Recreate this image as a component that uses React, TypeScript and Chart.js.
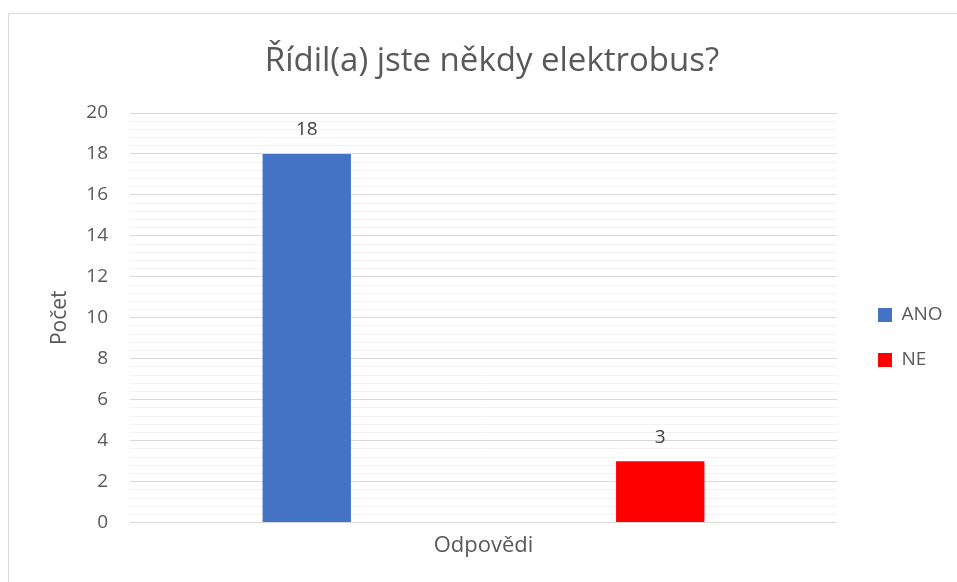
import React, { useEffect, useRef } from "react";
import { Chart, registerables } from "chart.js";

Chart.register(...registerables);

// ---- data ----
const chartTitle = "Řídil(a) jste někdy elektrobus?";
const categories = ["Odpovědi"];
const seriesNames = ["ANO", "NE"];
const anoValues = [18];
const neValues = [3];
const seriesColors = ["#4472C4", "#FF0000"];
const yAxisTitle = "Počet";
const yMin = 0;
const yMax = 20;
const yMajorStep = 2;
const yMinorStep = 0.4;

// ---- style ----
const FONT = "'Open Sans', 'DejaVu Sans', sans-serif";
const TEXT = "#595959";
const W = 957;
const H = 582;
const LEGEND_PAD = 26;
const LEGEND_W = 100;
const PAD_L = 47;
const PAD_R = 20;
const PLOT_LEFT = 130;

const legendPlace = {
  id: "legendPlace",
  beforeLayout(chart: any) {
    const lg = chart.legend;
    if (lg && !lg.__wrapped) {
      const fit = lg.fit.bind(lg);
      lg.fit = () => {
        fit();
        lg.width = LEGEND_W;
      };
      lg.__wrapped = true;
    }
  },
  afterLayout(chart: any) {
    const lg = chart.legend;
    if (!lg) return;
    const dx = chart.chartArea.right + 41 - (lg.left + LEGEND_PAD);
    lg.left += dx;
    lg.right += dx;
    const colH = lg.columnSizes && lg.columnSizes[0] ? lg.columnSizes[0].height : 0;
    const y0 = (lg.top + LEGEND_PAD + lg.bottom - colH) / 2;
    const dy = 305.5 - y0;
    lg.top += dy;
    lg.bottom += dy;
  },
};

const valueLabels = {
  id: "valueLabels",
  afterDatasetsDraw(chart: any) {
    const ctx = chart.ctx;
    ctx.save();
    ctx.font = `19px ${FONT}`;
    ctx.fillStyle = "#404040";
    ctx.textAlign = "center";
    ctx.textBaseline = "middle";
    chart.data.datasets.forEach((ds: any, i: number) => {
      const meta = chart.getDatasetMeta(i);
      meta.data.forEach((el: any, j: number) => {
        ctx.fillText(String(ds.data[j]), el.x, el.y - 24);
      });
    });
    ctx.restore();
  },
};

const isMajor = (v: number) => Math.abs(v / yMajorStep - Math.round(v / yMajorStep)) < 1e-6;

export default function App() {
  const ref = useRef<HTMLCanvasElement | null>(null);

  useEffect(() => {
    if (!ref.current) return;
    const chart = new Chart(ref.current, {
      type: "bar",
      data: {
        labels: categories,
        datasets: [
          { label: seriesNames[0], data: anoValues, backgroundColor: seriesColors[0] },
          { label: seriesNames[1], data: neValues, backgroundColor: seriesColors[1] },
        ],
      },
      options: {
        responsive: false,
        animation: false,
        devicePixelRatio: 1,
        datasets: { bar: { barPercentage: 0.25, categoryPercentage: 1 } },
        layout: { padding: { left: PAD_L, right: PAD_R, top: 0, bottom: 13 } },
        plugins: {
          title: {
            display: true,
            text: chartTitle,
            color: TEXT,
            font: { family: FONT, size: 33, weight: "normal" },
            padding: { top: 42, bottom: 31.4 },
          },
          legend: {
            position: "right",
            labels: {
              boxWidth: 14,
              boxHeight: 14,
              padding: LEGEND_PAD,
              color: TEXT,
              font: { family: FONT, size: 19 },
            },
          },
          tooltip: { enabled: false },
        },
        scales: {
          x: {
            grid: { display: false, drawTicks: false },
            border: { display: false },
            ticks: { color: TEXT, font: { family: FONT, size: 22 }, padding: 10 },
          },
          y: {
            min: yMin,
            max: yMax,
            afterFit: (scale: any) => {
              scale.width = PLOT_LEFT - PAD_L;
            },
            border: { display: false },
            grid: {
              drawTicks: false,
              color: (c: any) => (c.tick && isMajor(c.tick.value) ? "#d9d9d9" : "#f2f2f2"),
              lineWidth: 1,
            },
            ticks: {
              stepSize: yMinorStep,
              autoSkip: false,
              padding: 22,
              color: TEXT,
              font: { family: FONT, size: 19 },
              callback: (v: any) => (isMajor(Number(v)) ? String(Math.round(Number(v))) : ""),
            },
            title: {
              display: true,
              text: yAxisTitle,
              color: TEXT,
              font: { family: FONT, size: 21 },
              padding: { top: 0 },
            },
          },
        },
      },
      plugins: [legendPlace, valueLabels],
    });
    return () => chart.destroy();
  }, []);

  return (
    <div style={{ position: "fixed", left: 0, top: 0, width: W, height: H, overflow: "hidden", background: "#fff" }}>
      <div
        style={{
          position: "absolute",
          left: 8,
          top: 13,
          width: W + 20,
          height: H + 20,
          border: "1px solid #d9d9d9",
          boxSizing: "border-box",
        }}
      />
      <canvas ref={ref} width={W} height={H} style={{ position: "absolute", left: 0, top: 0, width: W, height: H }} />
    </div>
  );
}
